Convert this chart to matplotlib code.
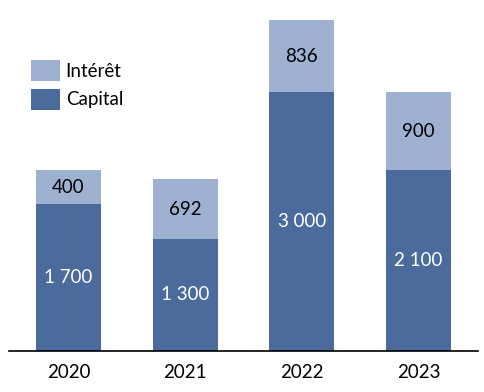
import matplotlib.pyplot as plt
import numpy as np

years = ["2020", "2021", "2022", "2023"]
capital = [1700, 1300, 3000, 2100]
interet = [400, 692, 836, 900]

DARK = "#4a6b9b"
LIGHT = "#9fb1d1"

plt.rcParams["font.family"] = ["Lato", "DejaVu Sans"]


def fmt(v):
    return "{:,}".format(v).replace(",", " ")


fig = plt.figure(figsize=(4.85, 3.92), dpi=100)
ax = fig.add_axes([9 / 485, 41 / 392, 469 / 485, 345 / 392])

x = np.arange(len(years))
barsCap = ax.bar(x, capital, width=0.556, color=DARK, label="Capital")
barsInt = ax.bar(x, interet, width=0.556, bottom=capital, color=LIGHT, label="Intérêt")

ax.bar_label(barsCap, labels=[fmt(v) for v in capital], label_type="center",
             color="white", fontsize=13.5)
ax.bar_label(barsInt, labels=[fmt(v) for v in interet], label_type="center",
             color="black", fontsize=13.5)

ax.set_xlim(-0.51, 3.51)
ax.set_ylim(0, 4000)
ax.set_xticks(x)
ax.set_xticklabels(years, fontsize=13.5)
ax.tick_params(axis="x", length=0, pad=9)
ax.set_yticks([])
for side in ["top", "left", "right"]:
    ax.spines[side].set_visible(False)
ax.spines["bottom"].set_linewidth(1.2)
ax.spines["bottom"].set_color("black")

handles, labels = ax.get_legend_handles_labels()
fig.legend(handles[::-1], labels[::-1], loc="upper left",
           bbox_to_anchor=(31 / 485, 1 - 60 / 392), bbox_transform=fig.transFigure,
           frameon=False, borderpad=0, borderaxespad=0, fontsize=13.5,
           handlelength=1.55, handleheight=1.35, labelspacing=0.4, handletextpad=0.3)

fig.savefig("out.png", dpi=100)
